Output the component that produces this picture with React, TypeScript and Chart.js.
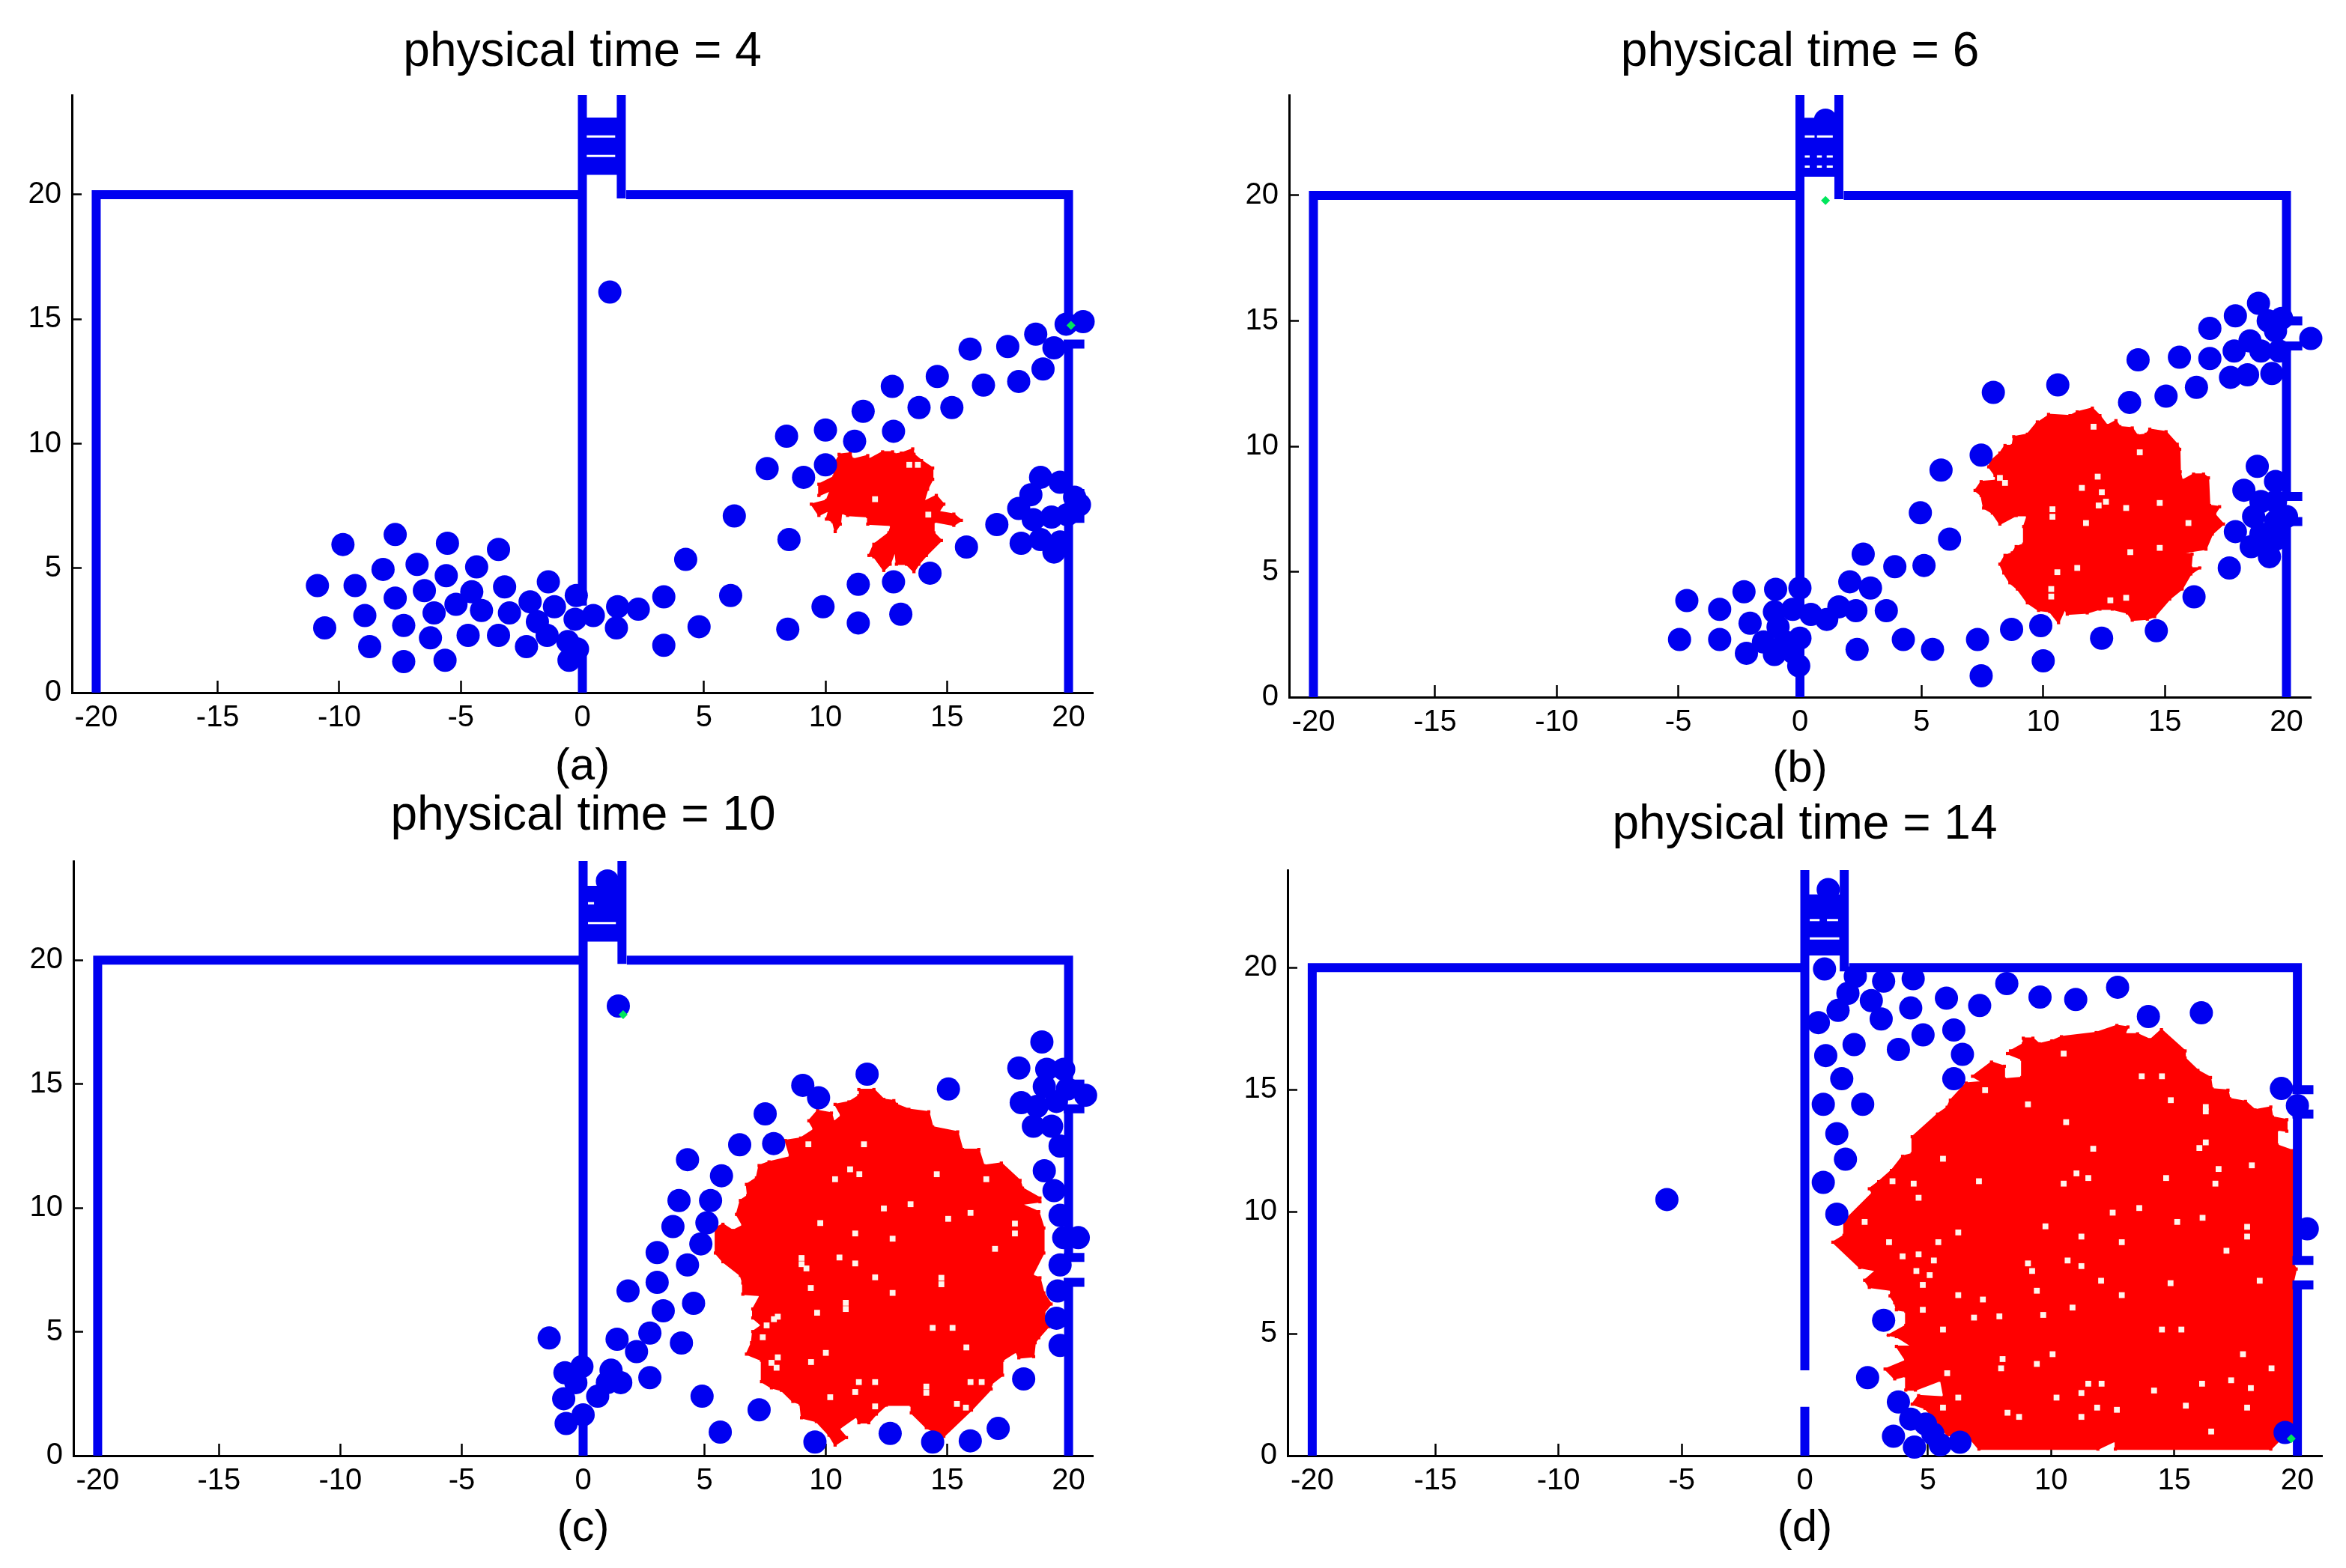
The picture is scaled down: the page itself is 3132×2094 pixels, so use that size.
import React, { useEffect, useRef } from "react";
import { Chart, registerables } from "chart.js";

Chart.register(...registerables);

type P = [number, number];

const xTickValues = [-20, -15, -10, -5, 0, 5, 10, 15, 20];
const yTickValues = [0, 5, 10, 15, 20];

const titles = ["physical time = 4", "physical time = 6", "physical time = 10", "physical time = 14"];
const captions = ["(a)", "(b)", "(c)", "(d)"];

// Building outline shared by all four panels
const wallPaths: P[][] = [
  [[-20, 0], [-20, 20], [0, 20]],
  [[0, 0], [0, 2]],
  [[0, 3.5], [0, 24]],
  [[1.8, 20], [20, 20], [20, 15]],
  [[20, 14], [20, 8]],
  [[20, 7], [20, 0]],
  [[1.6, 24], [1.6, 19.85]],
  [[19.8, 15], [20.65, 15]],
  [[19.8, 14], [20.65, 14]],
  [[19.8, 8], [20.65, 8]],
  [[19.8, 7], [20.65, 7]],
];

const dotsA: P[] = [
  [1.13, 16.09], [20.6, 14.9], [19.9, 14.8], [18.65, 14.4], [15.95, 13.8], [17.5, 13.9], [19.4, 13.85], [18.95, 13],
  [17.95, 12.5], [16.5, 12.35], [14.6, 12.7], [12.75, 12.3], [11.55, 11.3], [13.85, 11.45], [15.2, 11.45], [10, 10.55],
  [8.4, 10.3], [11.2, 10.1], [12.8, 10.5], [7.6, 9], [9.1, 8.65], [10, 9.15], [6.25, 7.1], [8.5, 6.15], [4.25, 5.35],
  [17.05, 6.75], [15.8, 5.85], [14.3, 4.8], [12.8, 4.45], [11.35, 4.35], [9.9, 3.45], [13.1, 3.15], [11.35, 2.8],
  [8.45, 2.55], [4.8, 2.65], [6.1, 3.9], [3.35, 3.85], [3.35, 1.9], [1.4, 2.6], [2.3, 3.35], [1.45, 3.45], [0.45, 3.1],
  [-0.25, 3.9], [-1.15, 3.45], [-1.4, 4.45], [-2.15, 3.65], [-1.85, 2.85], [-1.45, 2.3], [-0.3, 2.95], [-0.6, 2.05],
  [-0.2, 1.75], [-0.55, 1.3], [-2.3, 1.85], [-3.45, 2.3], [-3, 3.2], [-3.2, 4.25], [-4.15, 3.3], [-3.45, 5.75],
  [-4.35, 5.05], [-4.55, 4.05], [-4.7, 2.3], [-5.2, 3.55], [-5.6, 4.7], [-5.55, 6], [-6.1, 3.2], [-6.5, 4.1],
  [-6.25, 2.2], [-5.65, 1.3], [-6.8, 5.15], [-7.35, 2.7], [-7.7, 3.8], [-8.2, 4.95], [-7.7, 6.35], [-7.35, 1.25],
  [-8.75, 1.85], [-8.95, 3.1], [-9.35, 4.3], [-9.85, 5.95], [-10.6, 2.6], [-10.9, 4.3], [18.85, 8.65], [18.45, 7.95],
  [17.95, 7.4], [19.65, 8.45], [20.25, 7.85], [20.45, 7.55], [18.55, 6.95], [19.3, 7.05], [19.95, 7.15], [18.05, 6],
  [18.85, 6.15], [19.65, 6.05], [19.4, 5.65],
];
const dotsB: P[] = [
  [18.85, 15.7], [17.9, 15.2], [16.85, 14.7], [16.85, 13.5], [15.6, 13.55], [13.9, 13.45], [10.6, 12.45], [7.95, 12.15],
  [13.55, 11.75], [15.05, 12], [16.3, 12.35], [17.7, 12.75], [18.4, 12.85], [17.85, 13.8], [18.5, 14.2], [19.25, 15],
  [19.55, 14.6], [18.95, 13.8], [19.4, 12.9], [19.7, 13.8], [21, 14.3], [19.8, 15.1], [7.45, 9.65], [5.8, 9.05],
  [4.95, 7.35], [6.15, 6.3], [2.6, 5.7], [3.9, 5.2], [5.1, 5.25], [2.05, 4.6], [2.9, 4.35], [3.55, 3.45], [2.3, 3.45],
  [1.6, 3.6], [1.1, 3.1], [0.45, 3.3], [0, 4.35], [-1, 4.3], [-2.3, 4.2], [-4.65, 3.85], [-3.3, 3.5], [-2.05, 2.95],
  [-1.05, 3.4], [-0.3, 3.5], [-0.9, 2.8], [0, 2.35], [-0.6, 2.2], [-1.5, 2.2], [-2.2, 1.75], [-1.05, 1.7], [-0.3, 1.8],
  [-0.05, 1.25], [-3.3, 2.3], [-4.95, 2.3], [2.35, 1.9], [4.25, 2.3], [5.45, 1.9], [7.3, 2.3], [7.45, 0.85], [8.7, 2.7],
  [9.9, 2.85], [10, 1.45], [12.4, 2.35], [14.65, 2.65], [16.2, 4], [17.65, 5.15], [19.3, 5.6], [18.55, 6], [17.9, 6.6],
  [18.8, 9.2], [18.25, 8.25], [19.55, 8.6], [18.95, 7.8], [19.55, 7.8], [18.65, 7.2], [19.55, 7], [18.95, 6.5],
  [19.55, 6.3], [20, 7.2], [19.25, 6], [1.05, 23],
];
const dotsC: P[] = [
  [18.9, 16.7], [17.95, 15.65], [19.1, 15.6], [19.8, 15.6], [11.7, 15.4], [9.05, 14.95], [15.05, 14.8], [9.7, 14.45],
  [20.7, 14.55], [19.95, 14.8], [19, 14.9], [18.05, 14.25], [18.7, 14.1], [19.5, 14.3], [18.55, 13.3], [19.3, 13.3],
  [19.65, 12.5], [7.5, 13.8], [6.45, 12.55], [7.85, 12.6], [4.3, 11.95], [5.7, 11.3], [19, 11.5], [19.4, 10.7],
  [3.95, 10.3], [5.25, 10.3], [19.65, 9.7], [3.7, 9.25], [5.1, 9.4], [20.4, 8.8], [19.8, 8.8], [4.85, 8.55], [3.05, 8.2],
  [19.65, 7.7], [4.3, 7.7], [3.05, 7], [1.85, 6.65], [19.55, 6.65], [4.55, 6.15], [3.3, 5.85], [19.5, 5.55], [2.75, 4.95],
  [-1.4, 4.75], [1.4, 4.7], [4.05, 4.55], [19.65, 4.45], [2.2, 4.2], [2.75, 3.15], [-0.05, 3.6], [-0.75, 3.35],
  [1.15, 3.45], [-0.3, 2.95], [1.55, 2.95], [1, 2.95], [0.6, 2.4], [-0.8, 2.3], [0, 1.65], [-0.7, 1.3], [4.9, 2.4],
  [7.25, 1.85], [5.65, 0.95], [9.55, 0.55], [12.65, 0.9], [14.4, 0.55], [15.95, 0.6], [17.1, 1.1], [18.15, 3.1],
  [1.45, 18.15], [1, 23.2],
];
const dotsD: P[] = [
  [-5.6, 10.5], [0.8, 19.95], [2.05, 19.65], [3.2, 19.45], [4.4, 19.55], [1.75, 18.95], [1.35, 18.25], [0.55, 17.75],
  [2.7, 18.65], [3.1, 17.9], [4.3, 18.35], [5.75, 18.75], [7.1, 18.45], [8.2, 19.35], [9.55, 18.8], [11, 18.7],
  [12.7, 19.2], [13.95, 18], [16.1, 18.15], [6.05, 17.45], [4.8, 17.25], [2, 16.85], [3.8, 16.65], [6.4, 16.45],
  [0.85, 16.4], [1.5, 15.45], [6.05, 15.45], [0.75, 14.4], [2.35, 14.4], [1.3, 13.2], [1.65, 12.15], [0.75, 11.2],
  [1.3, 9.9], [3.2, 5.55], [2.55, 3.2], [3.8, 2.2], [4.3, 1.5], [3.6, 0.8], [4.45, 0.35], [5.2, 0.9], [5.5, 0.45],
  [4.9, 1.3], [6.3, 0.55], [19.35, 15.05], [20, 14.35], [20.4, 9.3], [19.5, 0.95], [0.95, 23.2],
];

const redA: P[] = [
  [10.56, 9.57], [11.02, 9.62], [11.12, 9.37], [11.74, 9.52], [11.79, 9.37], [12.35, 9.67], [12.76, 9.67], [12.82, 9.57],
  [13.12, 9.62], [13.59, 9.79], [13.64, 9.57], [13.95, 9.32], [14.41, 9.02], [14.41, 8.57], [14.2, 8.17], [14.05, 7.67],
  [14.56, 7.92], [14.87, 7.57], [14.66, 7.27], [15.28, 7.17], [15.59, 6.92], [15.28, 6.72], [14.46, 6.87], [14.46, 6.42],
  [14.77, 6.11], [14.15, 5.51], [13.84, 5.16], [13.64, 4.86], [13.33, 5.16], [12.92, 5.16], [12.87, 5.71], [12.66, 5.16],
  [12.4, 4.91], [11.99, 5.46], [11.79, 5.51], [11.99, 5.96], [12.61, 6.42], [12.71, 6.72], [11.74, 6.77], [11.74, 7.07],
  [10.91, 7.12], [10.66, 7.22], [10.61, 6.77], [10.4, 6.47], [10.3, 6.87], [10.04, 6.97], [10.14, 7.32], [9.73, 7.12],
  [9.42, 7.57], [10.04, 7.72], [10.2, 8.12], [9.73, 7.92], [9.73, 8.37], [10.35, 8.67], [10.35, 9.22],
];
const redB: P[] = [
  [10.22, 11.27], [11.1, 11.22], [11.4, 11.37], [12.02, 11.52], [12.33, 11.22], [12.63, 10.83], [12.99, 11.02],
  [13.15, 10.78], [13.66, 10.73], [13.87, 10.43], [14.23, 10.48], [14.38, 10.68], [15.05, 10.58], [15.51, 10.08],
  [15.61, 9.88], [15.63, 8.98], [15.71, 8.64], [16.18, 8.89], [16.59, 8.89], [16.79, 8.74], [16.84, 7.64], [17.25, 7.59],
  [17.05, 7.29], [17.41, 6.9], [16.95, 6.5], [16.69, 5.9], [15.71, 5.75], [16.12, 5.7], [16.07, 5.15], [16.43, 5.15],
  [16.07, 4.91], [15.71, 4.31], [15.2, 3.91], [14.58, 3.21], [14.28, 3.11], [13.66, 3.07], [13.46, 3.36], [12.84, 3.51],
  [12.33, 3.51], [11.81, 3.36], [10.99, 3.31], [10.89, 3.51], [10.63, 2.97], [10.27, 3.41], [9.81, 3.46], [9.35, 3.76],
  [8.94, 4.31], [8.63, 4.56], [8.38, 4.95], [8.22, 5.3], [8.43, 5.65], [8.73, 5.75], [8.89, 6], [9.2, 6.1], [9.2, 6.8],
  [9.35, 7.24], [8.89, 7.24], [8.22, 6.9], [7.91, 7.34], [7.55, 7.54], [7.45, 8.04], [7.2, 8.24], [7.45, 8.59],
  [8.07, 8.64], [8.02, 8.84], [7.76, 9.18], [7.86, 9.43], [8.22, 9.73], [8.43, 10.03], [8.73, 10.03], [8.79, 10.38],
  [9.35, 10.48], [9.76, 10.97],
];
const redC: P[] = [
  [11.36, 14.78], [11.98, 14.78], [12.39, 14.38], [12.8, 14.33], [12.91, 14.18], [13.42, 13.98], [14.24, 13.88],
  [14.4, 13.27], [15.43, 13.07], [15.63, 12.36], [16.3, 12.36], [16.51, 11.71], [17.23, 11.81], [18, 11.11], [18.1, 10.8],
  [18.82, 10.4], [18.82, 10.25], [18.05, 10.15], [18.77, 9.85], [18.98, 9.19], [18.98, 8.18], [18.51, 7.28], [18.82, 7.18],
  [18.98, 6.57], [19.28, 6.12], [18.98, 5.77], [19.18, 5.21], [18.77, 4.76], [18.62, 4.56], [18.56, 4], [17.95, 3.95],
  [17.84, 4.2], [17.28, 3.85], [17.28, 3.25], [16.81, 2.89], [16.81, 2.69], [16, 1.84], [14.86, 0.78], [14.14, 1.13],
  [13.52, 1.73], [13.52, 2.04], [12.49, 2.04], [12.08, 1.68], [11.77, 1.33], [11.36, 1.33], [11.26, 1.58], [10.54, 1.08],
  [10.85, 0.73], [10.38, 0.43], [10.13, 0.83], [9.61, 1.38], [9, 1.53], [8.94, 2.09], [8.64, 2.19], [8.17, 2.64],
  [7.76, 2.74], [7.35, 2.99], [7.35, 3.85], [6.73, 4.1], [6.94, 4.56], [6.99, 5.01], [7.35, 5.26], [6.99, 5.56],
  [6.99, 5.92], [7.3, 6.47], [6.58, 6.52], [6.58, 6.97], [6.48, 7.28], [5.76, 7.83], [5.45, 8.18], [5.45, 9.19],
  [5.76, 9.34], [6.17, 9.09], [6.58, 9.29], [6.32, 9.74], [6.48, 10.3], [6.78, 10.5], [6.73, 10.95], [7.14, 11.21],
  [7.25, 11.71], [7.66, 11.86], [8.53, 12.06], [8.33, 12.72], [8.96, 12.82], [9.51, 13.17], [9.3, 13.52], [9.66, 13.93],
  [10.23, 13.83], [10.33, 13.47], [10.64, 13.72], [10.38, 14.18], [10.95, 14.28], [11.36, 14.53],
];
const redD: P[] = [
  [8.35, 16.59], [8.87, 16.88], [8.87, 17.11], [9.26, 17.11], [9.52, 16.88], [10.03, 17], [10.42, 17.17], [11.83, 17.34],
  [12.67, 17.63], [13.12, 17.57], [12.99, 17.29], [13.51, 17.29], [14.03, 17.05], [14.48, 17.46], [15.44, 16.59],
  [15.44, 16.3], [15.96, 15.79], [16.47, 15.5], [16.54, 15.03], [17.18, 14.98], [17.25, 14.63], [17.89, 14.52],
  [18.28, 14.17], [18.92, 14.29], [18.99, 13.88], [19.57, 13.77], [19.57, 13.3], [19.18, 13.36], [19.18, 12.73],
  [19.82, 12.5], [19.82, 7.88], [19.95, 7.65], [19.82, 7.07], [19.82, 1.19], [18.92, 0.27], [12.61, 0.27], [12.61, 0.61],
  [11.9, 0.27], [7.07, 0.27], [6.68, 0.73], [5.78, 0.84], [5.26, 1.53], [4.88, 1.94], [4.36, 2.11], [4.62, 2.46],
  [5.65, 2.4], [5.52, 3.09], [4.49, 2.69], [4.1, 2.69], [4.1, 3.27], [3.65, 3.15], [3.26, 3.55], [4.1, 3.9], [3.72, 4.48],
  [4.36, 4.48], [3.72, 4.88], [3.39, 4.94], [4.1, 5.34], [4.1, 5.92], [3.72, 5.98], [3.65, 6.27], [3.46, 6.55],
  [3.52, 6.78], [2.62, 6.9], [2.43, 7.19], [2.88, 7.59], [2.23, 7.71], [1.14, 8.75], [1.59, 9.03], [1.59, 9.61],
  [2.75, 10.77], [2.62, 10.94], [3, 11.23], [3.52, 11.69], [3.97, 12.27], [4.36, 12.38], [4.36, 13.07], [5.39, 14],
  [5.78, 14.28], [5.91, 14.57], [6.55, 15.27], [7.2, 15.32], [6.81, 15.55], [7.58, 16.13], [8.1, 15.96], [8.1, 15.44],
  [8.81, 15.5], [8.81, 16.25], [8.23, 16.48],
];

const holesA: P[] = [[13.45, 9.15], [13.8, 9.15], [12.04, 7.77], [14.23, 7.15]];
const holesB: P[] = [
  [12.07, 10.78], [13.97, 9.76], [12.24, 8.79], [11.59, 8.34], [12.41, 8.17], [12.28, 7.64], [12.58, 7.79], [13.41, 7.54],
  [14.79, 7.74], [15.97, 6.94], [11.76, 6.94], [10.38, 7.49], [10.38, 7.19], [8.22, 8.74], [8.43, 8.54], [14.79, 5.95],
  [13.58, 5.78], [10.58, 4.98], [11.4, 5.15], [10.33, 4.31], [10.33, 4.01], [12.76, 3.86], [13.41, 3.96],
];
const holesC: P[] = [
  [11.57, 12.57], [9.28, 12.57], [11, 11.56], [11.38, 11.36], [10.38, 11.16], [14.57, 11.36], [16.61, 11.16], [12.39, 9.98],
  [13.49, 10.15], [9.77, 9.39], [11.21, 8.97], [12.75, 8.76], [15.04, 9.56], [15.96, 9.8], [17.79, 9.37], [17.79, 8.97],
  [16.97, 8.35], [9, 7.98], [9, 7.73], [9.2, 7.56], [10.56, 8], [11.21, 7.76], [9.38, 6.77], [12.03, 7.2], [14.76, 7.18],
  [14.76, 6.92], [12.75, 6.57], [10.82, 6.17], [10.82, 5.92], [9.64, 5.77], [14.4, 5.16], [15.22, 5.16], [15.79, 4.37],
  [10, 4.15], [9.39, 3.78], [7.4, 4.78], [7.86, 5.51], [7.56, 5.26], [8.02, 5.61], [7.76, 3.75], [7.97, 3.55], [8.02, 3.97],
  [11.36, 2.97], [12.03, 2.97], [15.96, 2.97], [16.42, 2.97], [14.14, 2.79], [14.14, 2.54], [11.21, 2.57], [10.18, 2.36],
  [15.4, 2.09], [15.77, 1.94], [12.03, 1.99],
];
const holesD: P[] = [
  [10.51, 16.48], [13.68, 15.55], [14.5, 15.55], [7.32, 14.98], [9.06, 14.4], [14.86, 14.57], [16.28, 14.29], [16.28, 14.11],
  [10.61, 13.67], [11.71, 12.58], [5.61, 12.17], [16.02, 12.61], [16.28, 12.84], [18.15, 11.9], [16.8, 11.75], [11.03, 11.57],
  [11.51, 11.38], [3.56, 11.25], [4.42, 11.15], [7.07, 11.25], [10.51, 11.15], [14.67, 11.38], [16.67, 11.15], [4.62, 10.57],
  [13.58, 10.15], [12.5, 9.96], [2.43, 9.58], [9.77, 9.4], [15.12, 9.58], [16.15, 9.75], [17.96, 9.38], [17.96, 8.98],
  [6.23, 9.15], [11.23, 8.98], [3.42, 8.75], [5.42, 8.75], [12.87, 8.75], [17.12, 8.4], [3.97, 8.17], [4.62, 8.25], [5.24, 8],
  [9.06, 7.88], [10.67, 8], [11.23, 7.77], [4.53, 7.57], [5.07, 7.4], [9.23, 7.57], [12.03, 7.17], [14.85, 7.07], [18.47, 7.17],
  [4.79, 7], [9.42, 6.76], [6.23, 6.58], [7.23, 6.4], [12.87, 6.58], [10.87, 6.07], [4.79, 5.98], [6.87, 5.66], [7.9, 5.71],
  [9.68, 5.77], [5.61, 5.17], [14.5, 5.17], [15.29, 5.17], [10.06, 4.16], [17.79, 4.16], [8.03, 3.96], [9.42, 3.76], [7.97, 3.58],
  [18.95, 3.58], [5.78, 3.38], [11.51, 2.95], [12.05, 2.95], [16.13, 2.95], [17.31, 3.09], [14.18, 2.67], [18.11, 2.77],
  [11.23, 2.57], [6.23, 2.38], [10.22, 2.38], [15.47, 2.05], [5.61, 1.97], [11.87, 1.97], [12.67, 1.88], [17.96, 1.97],
  [8.23, 1.76], [8.7, 1.59], [11.23, 1.59], [16.5, 0.99],
];

const greenA: P[] = [[20.1, 14.75]];
const greenB: P[] = [[1.05, 19.8]];
const greenC: P[] = [[1.65, 17.8]];
const greenD: P[] = [[19.75, 0.7]];

const chimneyA: P[] = [[0, 23.1], [1.6, 23.1], [1.6, 20.8], [0, 20.8]];
const chimneyB: P[] = [[0, 23.1], [1.6, 23.1], [1.6, 20.75], [0, 20.75]];
const chimneyC: P[] = [[0, 23], [1.6, 23], [1.6, 20.75], [0, 20.75]];
const chimneyD: P[] = [[0, 23], [1.6, 23], [1.6, 20.5], [0, 20.5]];

const slitsA: P[][] = [[[0.18, 22.34], [1.35, 22.34]], [[0.18, 21.56], [1.35, 21.56]]];
const slitsB: P[][] = [
  [[0.2, 22.35], [0.6, 22.35]], [[0.7, 22.35], [1.35, 22.35]],
  [[0.2, 21.55], [0.4, 21.55]], [[0.7, 21.55], [0.9, 21.55]], [[1.1, 21.55], [1.35, 21.55]],
  [[0.2, 21.15], [0.4, 21.15]], [[0.7, 21.15], [0.9, 21.15]], [[1.1, 21.15], [1.35, 21.15]],
];
const slitsC: P[][] = [[[0.2, 22.3], [0.45, 22.3]], [[0.2, 21.5], [1.35, 21.5]]];
const slitsD: P[][] = [[[0.2, 21.95], [0.6, 21.95]], [[0.9, 21.95], [1.35, 21.95]], [[0.2, 21.2], [1.4, 21.2]]];

const dots = [dotsA, dotsB, dotsC, dotsD];
const reds = [redA, redB, redC, redD];
const holes = [holesA, holesB, holesC, holesD];
const greens = [greenA, greenB, greenC, greenD];
const chimneys = [chimneyA, chimneyB, chimneyC, chimneyD];
const slits = [slitsA, slitsB, slitsC, slitsD];

// Placement of each panel's plot area on the page
const panels = [
  { l: 96, r: 1459, t: 127, b: 925, gap: 57, end: 1060 },
  { l: 1721, r: 3085, t: 127, b: 931, gap: 57, end: 1063 },
  { l: 98, r: 1459, t: 1150, b: 1944, gap: 60, end: 2077 },
  { l: 1719, r: 3100, t: 1162, b: 1944, gap: 60, end: 2077 },
];

const BLUE = "#0000f0";
const RED = "#ff0000";
const FONT = "'Liberation Sans', Arial, sans-serif";
const GUTTER = 96;
const TITLE_H = 74;
const RIGHT_PAD = 30;

const toXY = (ps: P[]) => ps.map(([x, y]) => ({ x, y }));
const joinPaths = (paths: P[][]) => {
  const out: { x: number; y: number }[] = [];
  paths.forEach((p, i) => {
    if (i) out.push({ x: NaN, y: NaN });
    out.push(...toXY(p));
  });
  return out;
};

function Panel({ index }: { index: number }) {
  const ref = useRef<HTMLCanvasElement | null>(null);
  const p = panels[index];
  const pad = p.gap - TITLE_H / 2;
  const cLeft = p.l - GUTTER;
  const cTop = p.t - TITLE_H - pad;
  const cW = p.r + RIGHT_PAD - cLeft;
  const cH = p.end - cTop;

  useEffect(() => {
    if (!ref.current) return;
    const chart = new Chart(ref.current, {
      type: "scatter",
      data: {
        datasets: [
          {
            data: toXY(greens[index]),
            order: 0,
            pointStyle: "rectRot",
            pointRadius: 6,
            pointBorderWidth: 0,
            pointBackgroundColor: "#00e65c",
            clip: false,
          },
          {
            data: toXY(dots[index]),
            order: 1,
            pointStyle: "circle",
            pointRadius: 15.5,
            pointBorderWidth: 0,
            pointBackgroundColor: BLUE,
            clip: false,
          },
          {
            data: joinPaths(slits[index]),
            order: 2,
            showLine: true,
            borderColor: "#ffffff",
            borderWidth: 3,
            pointRadius: 0,
          },
          {
            data: toXY(chimneys[index]),
            order: 3,
            showLine: true,
            fill: "shape",
            backgroundColor: BLUE,
            borderColor: BLUE,
            borderWidth: 0,
            pointRadius: 0,
          },
          {
            data: joinPaths(wallPaths),
            order: 4,
            showLine: true,
            borderColor: BLUE,
            borderWidth: 12,
            borderCapStyle: "butt",
            borderJoinStyle: "miter",
            pointRadius: 0,
            clip: false,
          },
          {
            data: toXY(holes[index]),
            order: 5,
            pointStyle: "rect",
            pointRadius: 5.5,
            pointBorderWidth: 0,
            pointBackgroundColor: "#fff4ec",
          },
          {
            data: toXY(reds[index]),
            order: 6,
            showLine: true,
            fill: "shape",
            backgroundColor: RED,
            borderColor: RED,
            borderWidth: 2,
            pointStyle: "rect",
            pointRadius: 3,
            pointBorderWidth: 0,
            pointBackgroundColor: RED,
            clip: false,
          },
        ] as any,
      },
      options: {
        animation: false,
        responsive: false,
        maintainAspectRatio: false,
        layout: { autoPadding: false, padding: { left: 0, top: 0, bottom: 0, right: RIGHT_PAD } },
        plugins: {
          legend: { display: false },
          tooltip: { enabled: false },
          title: {
            display: true,
            text: titles[index],
            color: "#000000",
            fullSize: false,
            font: { family: FONT, size: 64, weight: "normal", lineHeight: `${TITLE_H}px` },
            padding: { top: 0, bottom: pad },
          },
        },
        scales: {
          x: {
            type: "linear",
            min: -21,
            max: 21,
            afterBuildTicks: (s: any) => {
              s.ticks = xTickValues.map((value) => ({ value }));
            },
            afterFit: (s: any) => {
              s.height = p.end - p.b;
            },
            grid: {
              drawOnChartArea: false,
              drawTicks: true,
              tickLength: -16,
              tickColor: "#000000",
              tickWidth: 2.5,
            },
            border: { color: "#000000", width: 3 },
            ticks: {
              color: "#000000",
              font: { family: FONT, size: 40 },
              padding: 26,
              maxRotation: 0,
              autoSkip: false,
            },
            title: {
              display: true,
              text: captions[index],
              color: "#000000",
              font: { family: FONT, size: 60, lineHeight: "72px" },
              padding: 0,
            },
          },
          y: {
            type: "linear",
            min: 0,
            max: 24,
            afterBuildTicks: (s: any) => {
              s.ticks = yTickValues.map((value) => ({ value }));
            },
            afterFit: (s: any) => {
              s.width = GUTTER;
            },
            grid: {
              drawOnChartArea: false,
              drawTicks: true,
              tickLength: -13,
              tickColor: "#000000",
              tickWidth: 2.5,
            },
            border: { color: "#000000", width: 3 },
            ticks: {
              color: "#000000",
              font: { family: FONT, size: 40 },
              padding: 27,
              autoSkip: false,
            },
          },
        },
      } as any,
    });
    return () => chart.destroy();
  }, [index]);

  return (
    <canvas
      ref={ref}
      width={cW}
      height={cH}
      style={{ position: "absolute", left: cLeft, top: cTop, width: cW, height: cH, display: "block" }}
    />
  );
}

export default function App() {
  return (
    <div style={{ position: "absolute", left: 0, top: 0, width: 3132, height: 2094, background: "#ffffff", overflow: "hidden" }}>
      {panels.map((_, i) => (
        <Panel key={i} index={i} />
      ))}
    </div>
  );
}
